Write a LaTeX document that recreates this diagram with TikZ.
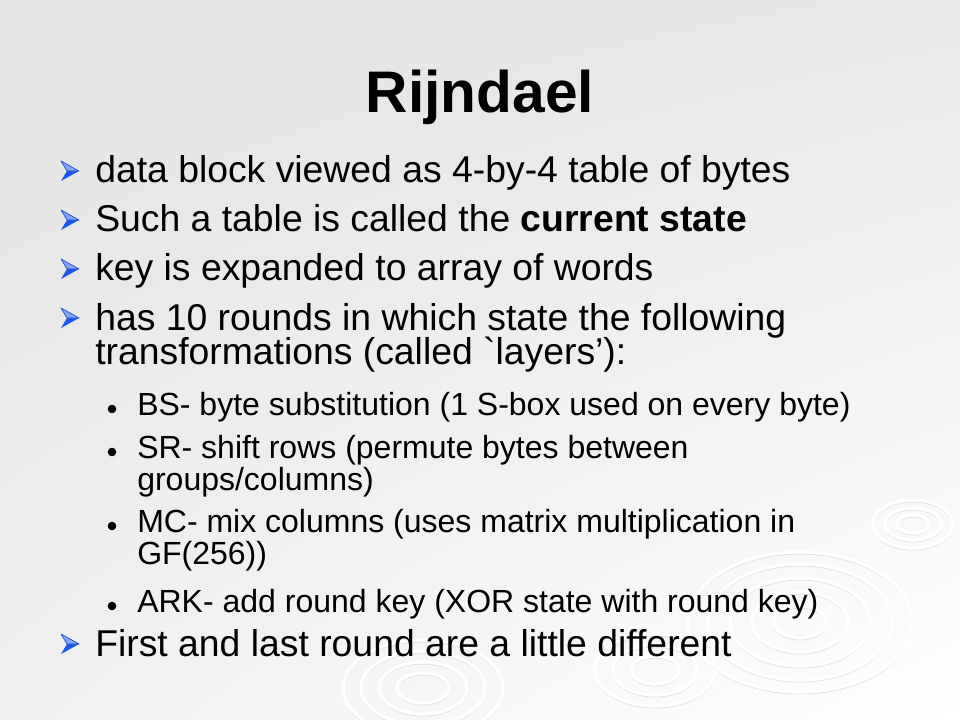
\documentclass[tikz,border=0pt]{standalone}
\usepackage{fontspec}
\setmainfont{Liberation Sans}
\usetikzlibrary{shadings}
\definecolor{bulDark}{RGB}{28,86,236}
\definecolor{bulLight}{RGB}{130,165,245}
\definecolor{bulEdge}{RGB}{40,80,200}
\begin{document}
\begin{tikzpicture}[x=0.75pt,y=-0.75pt,
  lone/.style={anchor=base west,inner sep=0pt,font=\fontsize{28}{32}\selectfont},
  ltwo/.style={anchor=base west,inner sep=0pt,font=\fontsize{24}{28}\selectfont},
  ring/.style={draw=white,line width=2.4pt,opacity=0.95},
  gring/.style={draw=black!14,line width=0.7pt,opacity=0.85}]
\useasboundingbox (0,0) rectangle (960,720);
\shade[upper left=black!11,upper right=black!9,lower left=black!6,lower right=white] (0,0) rectangle (960,720);
% ripples
\foreach \r/\s in {112/70,92/58,70/44,48/30,26/16}{
  \draw[gring] (800,624) ellipse ({\r} and {\s});
  \draw[ring] (800,622) ellipse ({\r} and {\s});
}
\foreach \r/\s in {40/24,28/16,16/9}{
  \draw[gring] (913,526) ellipse ({\r} and {\s});
  \draw[ring] (913,524) ellipse ({\r} and {\s});
}
\foreach \r/\s in {80/48,62/37,44/26,26/15}{
  \draw[gring] (423,690) ellipse ({\r} and {\s});
  \draw[ring] (423,688) ellipse ({\r} and {\s});
}
\foreach \r/\s in {60/36,42/25,24/14}{
  \draw[gring] (655,672) ellipse ({\r} and {\s});
  \draw[ring] (655,670) ellipse ({\r} and {\s});
}
% title
\node[anchor=base,inner sep=0pt,font=\fontsize{44}{48}\selectfont\bfseries] (title) at (480,113) {Rijndael};
% bullets
\tikzset{arrowbul/.pic={
  \fill[bulDark] (-9,-10) -- (9,0) -- (-9,10) -- (-3,0) -- cycle;
  \fill[bulLight] (-9,-10) -- (9,0) -- (-3,0) -- cycle;
  \draw[bulEdge,line width=0.5pt,line join=round] (-9,-10) -- (9,0) -- (-3,0) -- cycle;
}}
\tikzset{dotbul/.pic={\fill[black] (0,0) circle (4.3);}}
\foreach \y in {183,232,281,330,656}{ \pic at (70,\y-12) {arrowbul}; }
\foreach \y in {415,458,532,612}{ \pic at (112,\y-6) {dotbul}; }
\node[lone] (a1) at (95,183) {data block viewed as 4-by-4 table of bytes};
\node[lone] (a2) at (95,232) {Such a table is called the \textbf{current state}};
\node[lone] (a3) at (95,281) {key is expanded to array of words};
\node[lone] (a4) at (95,330) {has 10 rounds in which state the following};
\node[lone] (a4b) at (95,364) {transformations (called \textasciigrave layers’):};
\node[ltwo] (b1) at (137,415) {BS- byte substitution (1 S-box used on every byte)};
\node[ltwo] (b2) at (137,458) {SR- shift rows (permute bytes between};
\node[ltwo] (b2b) at (137,490) {groups/columns)};
\node[ltwo] (b3) at (137,532) {MC- mix columns (uses matrix multiplication in};
\node[ltwo] (b3b) at (137,564) {GF(256))};
\node[ltwo] (b4) at (137,612) {ARK- add round key (XOR state with round key)};
\node[lone] (a5) at (95,656) {First and last round are a little different};
\end{tikzpicture}
\end{document}
